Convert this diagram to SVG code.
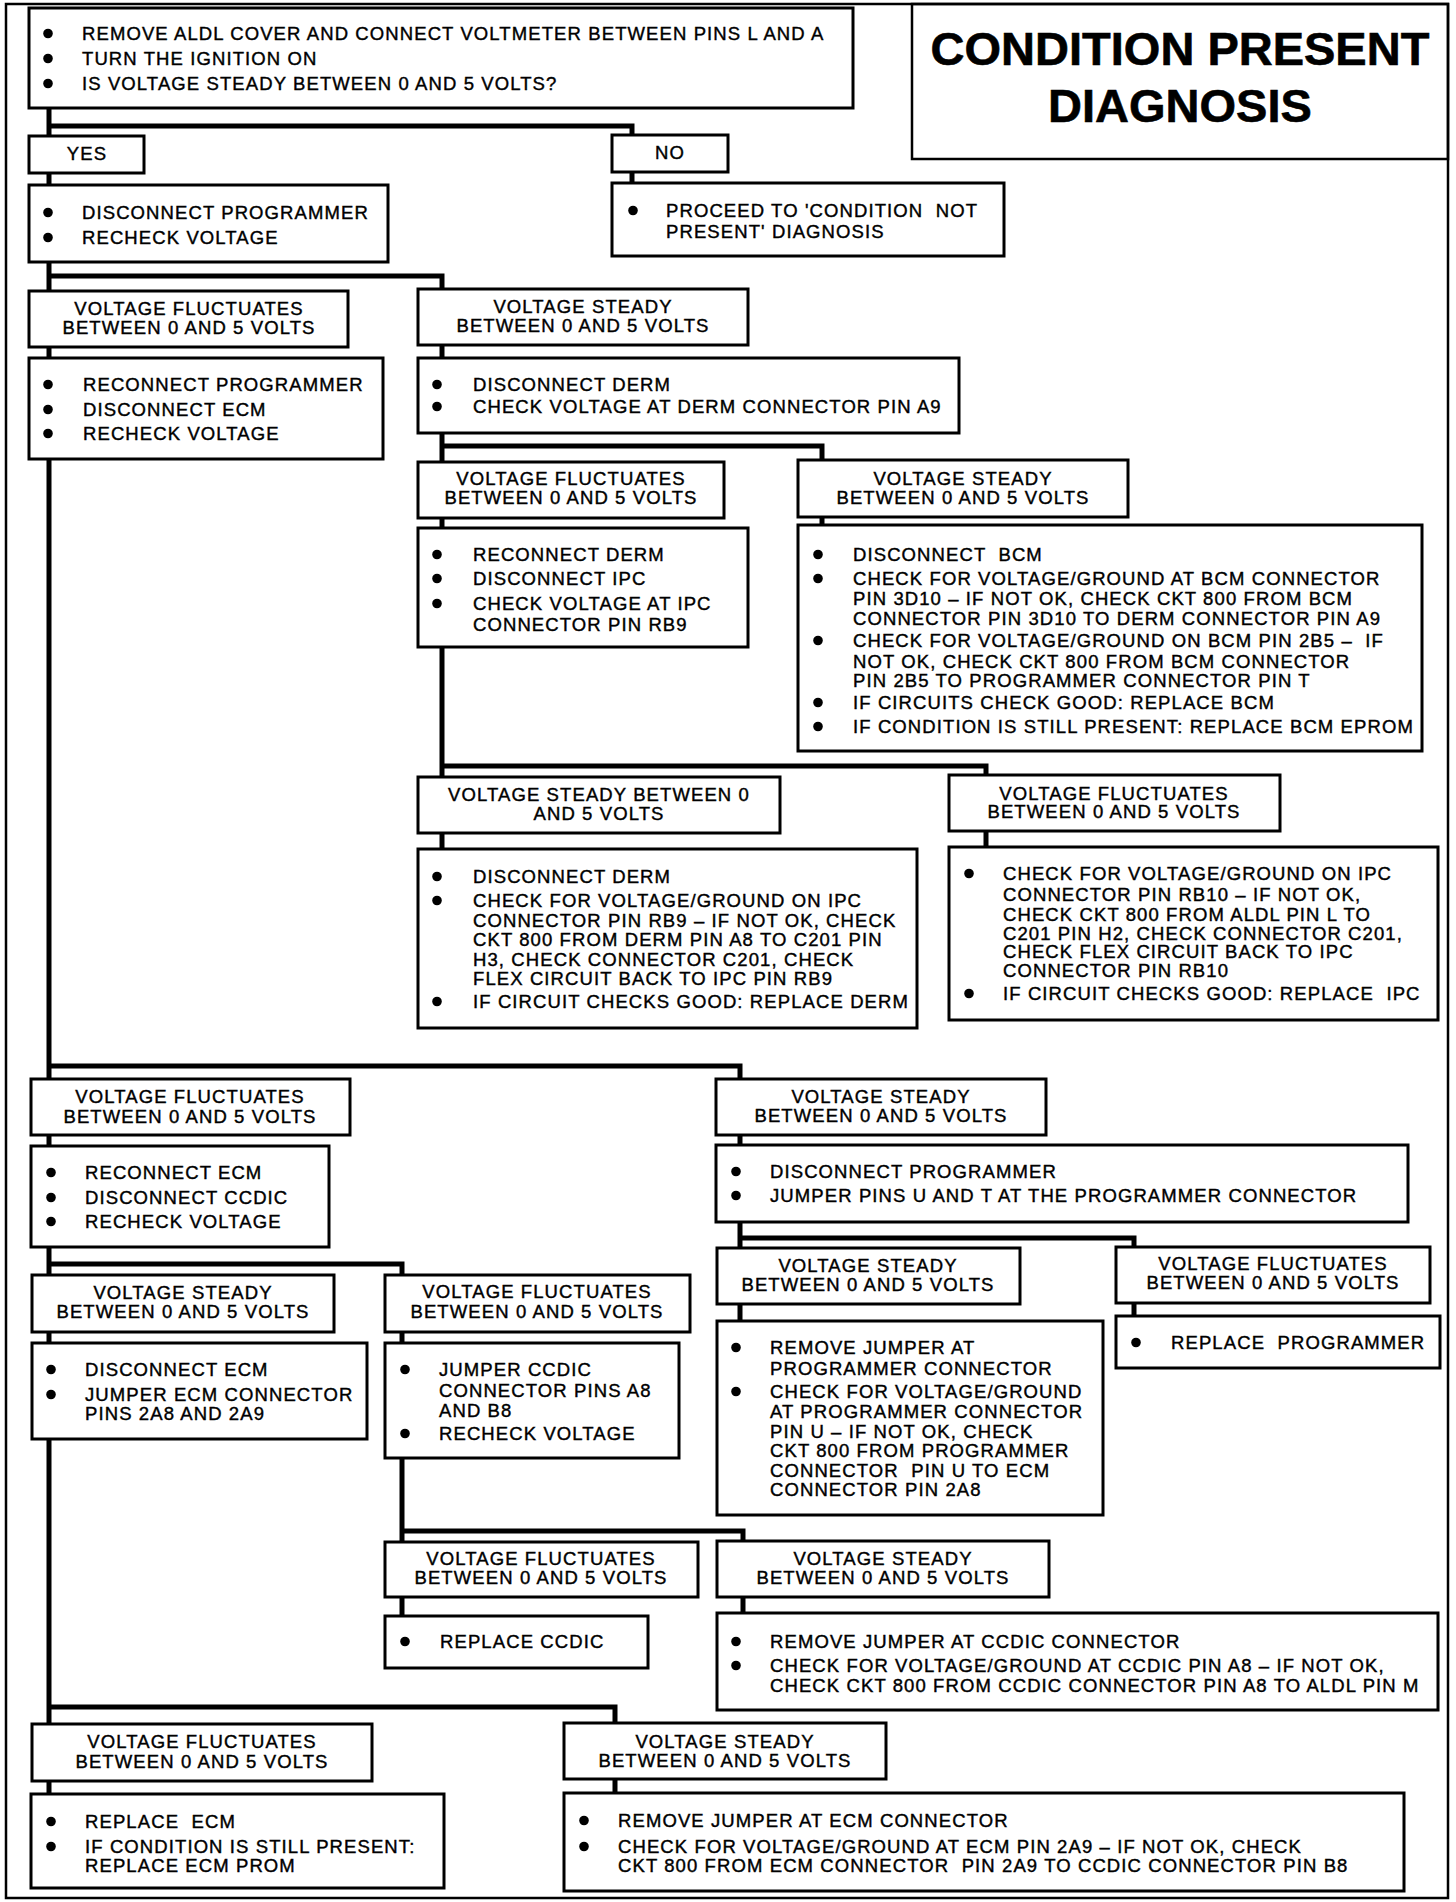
<svg xmlns="http://www.w3.org/2000/svg" width="1456" height="1902" viewBox="0 0 1456 1902" xml:space="preserve">
<style>
.frame{fill:none;stroke:#000;stroke-width:2.5}
.box{fill:#fff;stroke:#000;stroke-width:3}
.conn{fill:none;stroke:#000;stroke-width:5;stroke-linejoin:miter;stroke-linecap:butt}
text{font-family:"Liberation Sans",Arial,Helvetica,sans-serif;font-size:18.5px;letter-spacing:1.1px;fill:#000;stroke:#000;stroke-width:0.4px;white-space:pre}
.c{text-anchor:middle}
.title{font-size:47px;font-weight:bold;letter-spacing:0;stroke-width:0.6px}
circle{fill:#000}
</style>
<rect x="0" y="0" width="1456" height="1902" fill="#fff"/>
<rect class="frame" x="6" y="4" width="1442" height="1894"/>
<g id="title">
<rect class="frame" x="912" y="4" width="536" height="155"/>
<text class="title c" x="1180" y="65">CONDITION PRESENT</text>
<text class="title c" x="1180" y="122">DIAGNOSIS</text>
</g>
<g id="connectors">
<path class="conn" d="M49,108 V1794"/>
<path class="conn" d="M49,126 H632 V183"/>
<path class="conn" d="M49,276 H442 V849"/>
<path class="conn" d="M442,446 H822 V525"/>
<path class="conn" d="M442,766 H986 V847"/>
<path class="conn" d="M49,1066 H740 V1321"/>
<path class="conn" d="M740,1238 H1134 V1316"/>
<path class="conn" d="M49,1264 H402 V1616"/>
<path class="conn" d="M402,1531 H743 V1613"/>
<path class="conn" d="M49,1707 H615 V1793"/>
</g>
<g id="start">
<rect class="box" x="29" y="8" width="824" height="100"/>
<circle cx="48" cy="33.5" r="4.8"/><text x="82" y="40">REMOVE ALDL COVER AND CONNECT VOLTMETER BETWEEN PINS L AND A</text>
<circle cx="48" cy="58.5" r="4.8"/><text x="82" y="65">TURN THE IGNITION ON</text>
<circle cx="48" cy="83.5" r="4.8"/><text x="82" y="90">IS VOLTAGE STEADY BETWEEN 0 AND 5 VOLTS?</text>
</g>
<g id="yes">
<rect class="box" x="29" y="136" width="115" height="37"/>
<text class="c" x="87" y="160">YES</text>
</g>
<g id="no">
<rect class="box" x="612" y="135" width="116" height="37"/>
<text class="c" x="670" y="159">NO</text>
</g>
<g id="no-action">
<rect class="box" x="612" y="183" width="392" height="73"/>
<circle cx="633" cy="210.5" r="4.8"/><text x="666" y="217">PROCEED TO 'CONDITION  NOT</text>
<text x="666" y="238">PRESENT' DIAGNOSIS</text>
</g>
<g id="yes-action">
<rect class="box" x="29" y="185" width="359" height="77"/>
<circle cx="48" cy="212.5" r="4.8"/><text x="82" y="219">DISCONNECT PROGRAMMER</text>
<circle cx="48" cy="237.5" r="4.8"/><text x="82" y="244">RECHECK VOLTAGE</text>
</g>
<g id="r2-fluct">
<rect class="box" x="29" y="291" width="319" height="56"/>
<text class="c" x="189" y="315">VOLTAGE FLUCTUATES</text>
<text class="c" x="189" y="334">BETWEEN 0 AND 5 VOLTS</text>
</g>
<g id="r2-steady">
<rect class="box" x="418" y="289" width="330" height="56"/>
<text class="c" x="583" y="313">VOLTAGE STEADY</text>
<text class="c" x="583" y="332">BETWEEN 0 AND 5 VOLTS</text>
</g>
<g id="r2-fluct-action">
<rect class="box" x="29" y="358" width="354" height="101"/>
<circle cx="48" cy="384.5" r="4.8"/><text x="83" y="391">RECONNECT PROGRAMMER</text>
<circle cx="48" cy="409.5" r="4.8"/><text x="83" y="416">DISCONNECT ECM</text>
<circle cx="48" cy="433.5" r="4.8"/><text x="83" y="440">RECHECK VOLTAGE</text>
</g>
<g id="r2-steady-action">
<rect class="box" x="418" y="358" width="541" height="75"/>
<circle cx="437" cy="384.5" r="4.8"/><text x="473" y="391">DISCONNECT DERM</text>
<circle cx="437" cy="406.5" r="4.8"/><text x="473" y="413">CHECK VOLTAGE AT DERM CONNECTOR PIN A9</text>
</g>
<g id="r3-fluct">
<rect class="box" x="418" y="462" width="306" height="56"/>
<text class="c" x="571" y="485">VOLTAGE FLUCTUATES</text>
<text class="c" x="571" y="504">BETWEEN 0 AND 5 VOLTS</text>
</g>
<g id="r3-steady">
<rect class="box" x="798" y="460" width="330" height="57"/>
<text class="c" x="963" y="485">VOLTAGE STEADY</text>
<text class="c" x="963" y="504">BETWEEN 0 AND 5 VOLTS</text>
</g>
<g id="r3-fluct-action">
<rect class="box" x="418" y="528" width="330" height="119"/>
<circle cx="437" cy="554.5" r="4.8"/><text x="473" y="561">RECONNECT DERM</text>
<circle cx="437" cy="578.5" r="4.8"/><text x="473" y="585">DISCONNECT IPC</text>
<circle cx="437" cy="603.5" r="4.8"/><text x="473" y="610">CHECK VOLTAGE AT IPC</text>
<text x="473" y="631">CONNECTOR PIN RB9</text>
</g>
<g id="r3-steady-action">
<rect class="box" x="798" y="525" width="624" height="226"/>
<circle cx="818" cy="554.5" r="4.8"/><text x="853" y="561">DISCONNECT  BCM</text>
<circle cx="818" cy="578.5" r="4.8"/><text x="853" y="585">CHECK FOR VOLTAGE/GROUND AT BCM CONNECTOR</text>
<text x="853" y="605">PIN 3D10 – IF NOT OK, CHECK CKT 800 FROM BCM</text>
<text x="853" y="625">CONNECTOR PIN 3D10 TO DERM CONNECTOR PIN A9</text>
<circle cx="818" cy="640.5" r="4.8"/><text x="853" y="647">CHECK FOR VOLTAGE/GROUND ON BCM PIN 2B5 –  IF</text>
<text x="853" y="668">NOT OK, CHECK CKT 800 FROM BCM CONNECTOR</text>
<text x="853" y="687">PIN 2B5 TO PROGRAMMER CONNECTOR PIN T</text>
<circle cx="818" cy="702.5" r="4.8"/><text x="853" y="709">IF CIRCUITS CHECK GOOD: REPLACE BCM</text>
<circle cx="818" cy="726.5" r="4.8"/><text x="853" y="733">IF CONDITION IS STILL PRESENT: REPLACE BCM EPROM</text>
</g>
<g id="r4-steady">
<rect class="box" x="418" y="777" width="362" height="56"/>
<text class="c" x="599" y="801">VOLTAGE STEADY BETWEEN 0</text>
<text class="c" x="599" y="820">AND 5 VOLTS</text>
</g>
<g id="r4-fluct">
<rect class="box" x="949" y="775" width="331" height="56"/>
<text class="c" x="1114" y="800">VOLTAGE FLUCTUATES</text>
<text class="c" x="1114" y="818">BETWEEN 0 AND 5 VOLTS</text>
</g>
<g id="r4-steady-action">
<rect class="box" x="418" y="849" width="499" height="179"/>
<circle cx="437" cy="876.5" r="4.8"/><text x="473" y="883">DISCONNECT DERM</text>
<circle cx="437" cy="900.5" r="4.8"/><text x="473" y="907">CHECK FOR VOLTAGE/GROUND ON IPC</text>
<text x="473" y="927">CONNECTOR PIN RB9 – IF NOT OK, CHECK</text>
<text x="473" y="946">CKT 800 FROM DERM PIN A8 TO C201 PIN</text>
<text x="473" y="966">H3, CHECK CONNECTOR C201, CHECK</text>
<text x="473" y="985">FLEX CIRCUIT BACK TO IPC PIN RB9</text>
<circle cx="437" cy="1001.5" r="4.8"/><text x="473" y="1008">IF CIRCUIT CHECKS GOOD: REPLACE DERM</text>
</g>
<g id="r4-fluct-action">
<rect class="box" x="949" y="847" width="489" height="173"/>
<circle cx="969" cy="873.5" r="4.8"/><text x="1003" y="880">CHECK FOR VOLTAGE/GROUND ON IPC</text>
<text x="1003" y="901">CONNECTOR PIN RB10 – IF NOT OK,</text>
<text x="1003" y="921">CHECK CKT 800 FROM ALDL PIN L TO</text>
<text x="1003" y="940">C201 PIN H2, CHECK CONNECTOR C201,</text>
<text x="1003" y="958">CHECK FLEX CIRCUIT BACK TO IPC</text>
<text x="1003" y="977">CONNECTOR PIN RB10</text>
<circle cx="969" cy="993.5" r="4.8"/><text x="1003" y="1000">IF CIRCUIT CHECKS GOOD: REPLACE  IPC</text>
</g>
<g id="r5-fluct">
<rect class="box" x="31" y="1079" width="319" height="56"/>
<text class="c" x="190" y="1103">VOLTAGE FLUCTUATES</text>
<text class="c" x="190" y="1123">BETWEEN 0 AND 5 VOLTS</text>
</g>
<g id="r5-steady">
<rect class="box" x="716" y="1079" width="330" height="56"/>
<text class="c" x="881" y="1103">VOLTAGE STEADY</text>
<text class="c" x="881" y="1122">BETWEEN 0 AND 5 VOLTS</text>
</g>
<g id="r5-fluct-action">
<rect class="box" x="31" y="1146" width="298" height="101"/>
<circle cx="51" cy="1172.5" r="4.8"/><text x="85" y="1179">RECONNECT ECM</text>
<circle cx="51" cy="1197.5" r="4.8"/><text x="85" y="1204">DISCONNECT CCDIC</text>
<circle cx="51" cy="1221.5" r="4.8"/><text x="85" y="1228">RECHECK VOLTAGE</text>
</g>
<g id="r5-steady-action">
<rect class="box" x="716" y="1145" width="692" height="77"/>
<circle cx="736" cy="1171.5" r="4.8"/><text x="770" y="1178">DISCONNECT PROGRAMMER</text>
<circle cx="736" cy="1195.5" r="4.8"/><text x="770" y="1202">JUMPER PINS U AND T AT THE PROGRAMMER CONNECTOR</text>
</g>
<g id="r6-steady-ecm">
<rect class="box" x="32" y="1275" width="302" height="57"/>
<text class="c" x="183" y="1299">VOLTAGE STEADY</text>
<text class="c" x="183" y="1318">BETWEEN 0 AND 5 VOLTS</text>
</g>
<g id="r6-fluct-ccdic">
<rect class="box" x="385" y="1275" width="305" height="57"/>
<text class="c" x="537" y="1298">VOLTAGE FLUCTUATES</text>
<text class="c" x="537" y="1318">BETWEEN 0 AND 5 VOLTS</text>
</g>
<g id="r6-steady-prog">
<rect class="box" x="717" y="1248" width="303" height="56"/>
<text class="c" x="868" y="1272">VOLTAGE STEADY</text>
<text class="c" x="868" y="1291">BETWEEN 0 AND 5 VOLTS</text>
</g>
<g id="r6-fluct-prog">
<rect class="box" x="1116" y="1247" width="314" height="56"/>
<text class="c" x="1273" y="1270">VOLTAGE FLUCTUATES</text>
<text class="c" x="1273" y="1289">BETWEEN 0 AND 5 VOLTS</text>
</g>
<g id="r6-steady-ecm-action">
<rect class="box" x="32" y="1343" width="335" height="96"/>
<circle cx="51" cy="1369.5" r="4.8"/><text x="85" y="1376">DISCONNECT ECM</text>
<circle cx="51" cy="1394.5" r="4.8"/><text x="85" y="1401">JUMPER ECM CONNECTOR</text>
<text x="85" y="1420">PINS 2A8 AND 2A9</text>
</g>
<g id="r6-fluct-ccdic-action">
<rect class="box" x="385" y="1343" width="294" height="115"/>
<circle cx="405" cy="1369.5" r="4.8"/><text x="439" y="1376">JUMPER CCDIC</text>
<text x="439" y="1397">CONNECTOR PINS A8</text>
<text x="439" y="1417">AND B8</text>
<circle cx="405" cy="1433.5" r="4.8"/><text x="439" y="1440">RECHECK VOLTAGE</text>
</g>
<g id="r6-steady-prog-action">
<rect class="box" x="717" y="1321" width="386" height="194"/>
<circle cx="736" cy="1347.5" r="4.8"/><text x="770" y="1354">REMOVE JUMPER AT</text>
<text x="770" y="1375">PROGRAMMER CONNECTOR</text>
<circle cx="736" cy="1391.5" r="4.8"/><text x="770" y="1398">CHECK FOR VOLTAGE/GROUND</text>
<text x="770" y="1418">AT PROGRAMMER CONNECTOR</text>
<text x="770" y="1438">PIN U – IF NOT OK, CHECK</text>
<text x="770" y="1457">CKT 800 FROM PROGRAMMER</text>
<text x="770" y="1477">CONNECTOR  PIN U TO ECM</text>
<text x="770" y="1496">CONNECTOR PIN 2A8</text>
</g>
<g id="r6-fluct-prog-action">
<rect class="box" x="1116" y="1316" width="324" height="52"/>
<circle cx="1136" cy="1342.5" r="4.8"/><text x="1171" y="1349">REPLACE  PROGRAMMER</text>
</g>
<g id="r7-fluct">
<rect class="box" x="385" y="1542" width="313" height="55"/>
<text class="c" x="541" y="1565">VOLTAGE FLUCTUATES</text>
<text class="c" x="541" y="1584">BETWEEN 0 AND 5 VOLTS</text>
</g>
<g id="r7-steady">
<rect class="box" x="717" y="1541" width="332" height="56"/>
<text class="c" x="883" y="1565">VOLTAGE STEADY</text>
<text class="c" x="883" y="1584">BETWEEN 0 AND 5 VOLTS</text>
</g>
<g id="r7-fluct-action">
<rect class="box" x="385" y="1616" width="263" height="52"/>
<circle cx="405" cy="1641.5" r="4.8"/><text x="440" y="1648">REPLACE CCDIC</text>
</g>
<g id="r7-steady-action">
<rect class="box" x="717" y="1613" width="721" height="97"/>
<circle cx="736" cy="1641.5" r="4.8"/><text x="770" y="1648">REMOVE JUMPER AT CCDIC CONNECTOR</text>
<circle cx="736" cy="1665.5" r="4.8"/><text x="770" y="1672">CHECK FOR VOLTAGE/GROUND AT CCDIC PIN A8 – IF NOT OK,</text>
<text x="770" y="1692">CHECK CKT 800 FROM CCDIC CONNECTOR PIN A8 TO ALDL PIN M</text>
</g>
<g id="r8-fluct">
<rect class="box" x="32" y="1724" width="340" height="57"/>
<text class="c" x="202" y="1748">VOLTAGE FLUCTUATES</text>
<text class="c" x="202" y="1768">BETWEEN 0 AND 5 VOLTS</text>
</g>
<g id="r8-steady">
<rect class="box" x="564" y="1723" width="322" height="56"/>
<text class="c" x="725" y="1748">VOLTAGE STEADY</text>
<text class="c" x="725" y="1767">BETWEEN 0 AND 5 VOLTS</text>
</g>
<g id="r8-fluct-action">
<rect class="box" x="31" y="1794" width="413" height="94"/>
<circle cx="51" cy="1821.5" r="4.8"/><text x="85" y="1828">REPLACE  ECM</text>
<circle cx="51" cy="1846.5" r="4.8"/><text x="85" y="1853">IF CONDITION IS STILL PRESENT:</text>
<text x="85" y="1872">REPLACE ECM PROM</text>
</g>
<g id="r8-steady-action">
<rect class="box" x="564" y="1793" width="840" height="98"/>
<circle cx="584" cy="1820.5" r="4.8"/><text x="618" y="1827">REMOVE JUMPER AT ECM CONNECTOR</text>
<circle cx="584" cy="1846.5" r="4.8"/><text x="618" y="1853">CHECK FOR VOLTAGE/GROUND AT ECM PIN 2A9 – IF NOT OK, CHECK</text>
<text x="618" y="1872">CKT 800 FROM ECM CONNECTOR  PIN 2A9 TO CCDIC CONNECTOR PIN B8</text>
</g>
</svg>
